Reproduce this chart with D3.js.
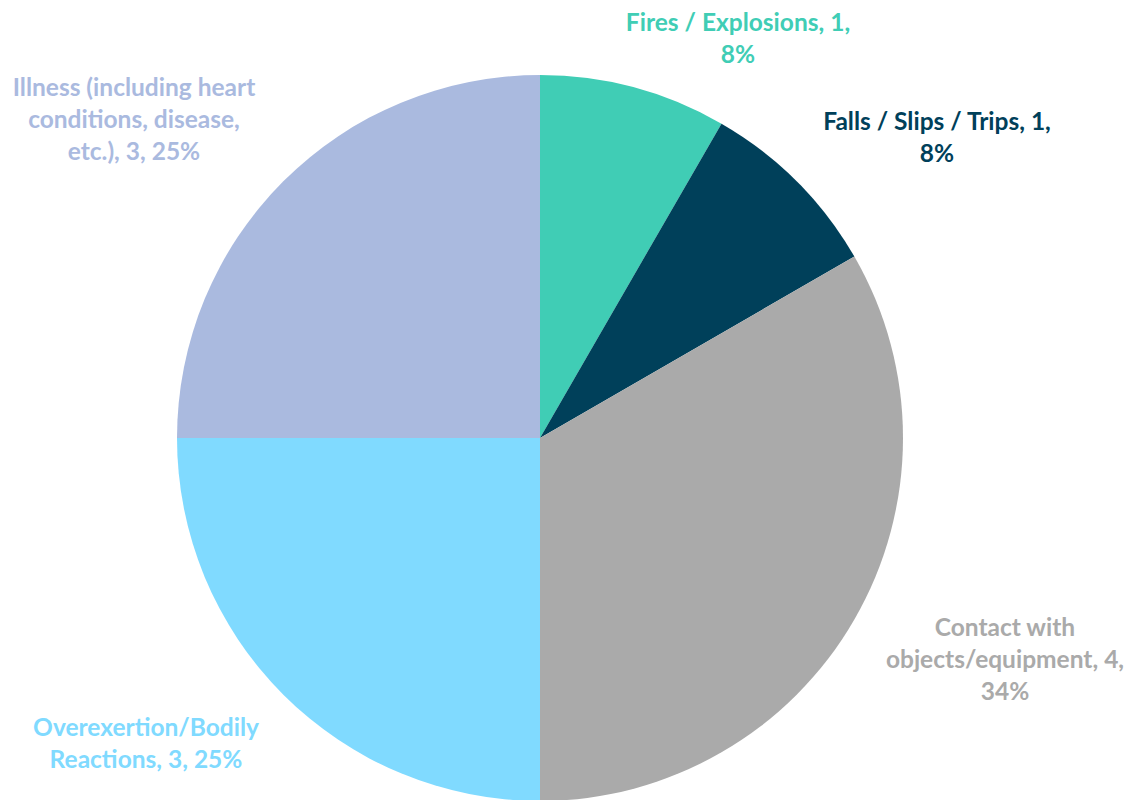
<!DOCTYPE html>
<html>
<head>
<meta charset="utf-8">
<script src="https://cdn.jsdelivr.net/npm/d3@7"></script>
<style>
  body { margin: 0; background: #fff; }
  svg { display: block; }
  .label { font-family: Lato, "Open Sans", sans-serif; font-weight: bold; font-size: 24.5px; }
</style>
</head>
<body>
<svg id="chart"></svg>
<script>
// slices, clockwise from 12 o'clock
const categories = ['Fires / Explosions', 'Falls / Slips / Trips', 'Contact with objects/equipment', 'Overexertion/Bodily Reactions', 'Illness (including heart conditions, disease, etc.)'];
const counts = [1, 1, 4, 3, 3];
const percents = ['8%', '8%', '34%', '25%', '25%'];
const colors = ['#40CDB5', '#00405A', '#AAAAAA', '#80DAFF', '#AABADF'];

// label lines as wrapped in the original
const labelLines = [
    ['Fires / Explosions, 1,', '8%'],
    ['Falls / Slips / Trips, 1,', '8%'],
    ['Contact with', 'objects/equipment, 4,', '34%'],
    ['Overexertion/Bodily', 'Reactions, 3, 25%'],
    ['Illness (including heart', 'conditions, disease,', 'etc.), 3, 25%']
];
// label centre positions (x, first line y)
const labelPos = [[738, 22], [937, 121], [1005, 627], [146, 727], [134, 87]];

const width = 1133, height = 800;
const cx = 540, cy = 438, radius = 363;
const lineH = 32;

const svg = d3.select('#chart').attr('width', width).attr('height', height);

const data = categories.map((c, i) => ({ name: c, value: counts[i], pct: percents[i], color: colors[i], lines: labelLines[i], pos: labelPos[i] }));

const pie = d3.pie().sort(null).value(d => d.value);
const arc = d3.arc().innerRadius(0).outerRadius(radius);

const g = svg.append('g').attr('transform', `translate(${cx},${cy})`);

g.selectAll('path')
    .data(pie(data))
    .enter()
    .append('path')
    .attr('d', arc)
    .attr('fill', d => d.data.color);

const labels = svg.selectAll('text.label')
    .data(data)
    .enter()
    .append('text')
    .attr('class', 'label')
    .attr('fill', d => d.color)
    .attr('text-anchor', 'middle');

labels.each(function(d) {
    const t = d3.select(this);
    d.lines.forEach((line, i) => {
        t.append('tspan')
            .attr('x', d.pos[0])
            .attr('y', d.pos[1] + i * lineH)
            .attr('dy', '0.35em')
            .text(line);
    });
});
</script>
</body>
</html>
